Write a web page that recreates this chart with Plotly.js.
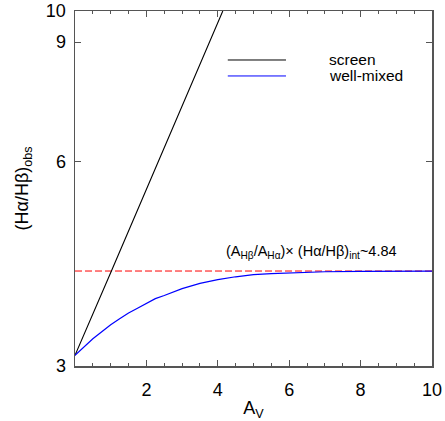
<!DOCTYPE html>
<html><head><meta charset="utf-8">
<script src="https://cdn.plot.ly/plotly-3.0.1.min.js"></script>
<style>html,body{margin:0;padding:0;background:#fff}</style>
</head><body><div id="chart" style="width:445px;height:421px"></div>
<script>
// Data
const screenAv = [0, 1.02, 4.14];
const screenRatio = [3.11, 4.14, 10];
const mixedAv = [0, 0.25, 0.5, 0.75, 1, 1.25, 1.5, 1.75, 2, 2.25, 2.5, 2.75, 3, 3.5, 4, 4.5, 5, 5.5, 6, 7, 8, 9, 10];
const mixedRatio = [3.11, 3.20, 3.29, 3.37, 3.45, 3.52, 3.59, 3.65, 3.71, 3.77, 3.81, 3.86, 3.90, 3.97, 4.02, 4.06, 4.09, 4.105, 4.115, 4.13, 4.135, 4.14, 4.14];
const limitAv = [0, 10];
const limitRatio = [4.14, 4.14];
const yTickVals = [3, 6, 9, 10];
const yTickText = ['3', '6', '9', '10'];
const xTickVals = [2, 4, 6, 8, 10];
const xTickText = ['2', '4', '6', '8', '10'];
const legendNames = ['screen', 'well-mixed'];
const legendColors = ['#000000', '#0000ff'];

const FONT = 'Liberation Sans, Arial, Helvetica, sans-serif';
const AX = '#555555';

const traces = [
  {x: limitAv, y: limitRatio, mode: 'lines', line: {color: '#ff0000', width: 1, dash: '7px,3px'}, hoverinfo: 'skip'},
  {x: screenAv, y: screenRatio, mode: 'lines', name: legendNames[0], line: {color: legendColors[0], width: 1.1}},
  {x: mixedAv, y: mixedRatio, mode: 'lines', name: legendNames[1], line: {color: legendColors[1], width: 1.2}}
];

const shapes = [];
const annotations = [];
const legY = [0.862, 0.817];
for (let i = 0; i < legendNames.length; i++) {
  shapes.push({type: 'line', xref: 'paper', yref: 'paper', x0: 0.428, x1: 0.591, y0: legY[i], y1: legY[i], line: {color: legendColors[i], width: 1}});
  annotations.push({xref: 'paper', yref: 'paper', x: 0.705, y: legY[i], xanchor: 'left', yanchor: 'middle', text: legendNames[i], showarrow: false, font: {family: FONT, size: 15.5, color: '#000'}});
}
annotations.push({xref: 'paper', yref: 'paper', x: 0.418, y: 0.32, xanchor: 'left', yanchor: 'middle',
  text: '(A<sub>Hβ</sub>/A<sub>Hα</sub>)× (Hα/Hβ)<sub>int</sub>~4.84', showarrow: false, font: {family: FONT, size: 14.5, color: '#000'}});

const layout = {
  width: 445, height: 421,
  margin: {l: 75, r: 13, t: 11, b: 55},
  paper_bgcolor: '#fff', plot_bgcolor: '#fff',
  showlegend: false,
  font: {family: FONT, color: '#000'},
  xaxis: {
    range: [0, 10], showgrid: false, zeroline: false,
    showline: true, linecolor: AX, linewidth: 1.5, mirror: 'ticks',
    ticks: 'inside', ticklen: 6, tickwidth: 1, tickcolor: AX,
    tickmode: 'array', tickvals: xTickVals, ticktext: xTickText,
    tickfont: {family: FONT, size: 18, color: '#000'},
    ticklabelstandoff: 7,
    minor: {tickmode: 'linear', tick0: 0, dtick: 0.5, ticks: 'inside', ticklen: 3, tickwidth: 1, tickcolor: AX, showgrid: false},
    title: {text: 'A<sub>V</sub>', font: {family: FONT, size: 18, color: '#000'}, standoff: 5}
  },
  yaxis: {
    type: 'log', range: [Math.log10(3), 1], showgrid: false, zeroline: false,
    showline: true, linecolor: AX, linewidth: 1.5, mirror: 'ticks',
    ticks: 'inside', ticklen: 6, tickwidth: 1, tickcolor: AX,
    tickmode: 'array', tickvals: yTickVals, ticktext: yTickText,
    tickfont: {family: FONT, size: 18, color: '#000'},
    ticklabelstandoff: 4,
    title: {text: '(Hα/Hβ)<sub>obs</sub>', font: {family: FONT, size: 18, color: '#000'}, standoff: 12}
  },
  shapes: shapes,
  annotations: annotations
};

Plotly.newPlot('chart', traces, layout, {displayModeBar: false, staticPlot: true});
</script>
</body></html>
